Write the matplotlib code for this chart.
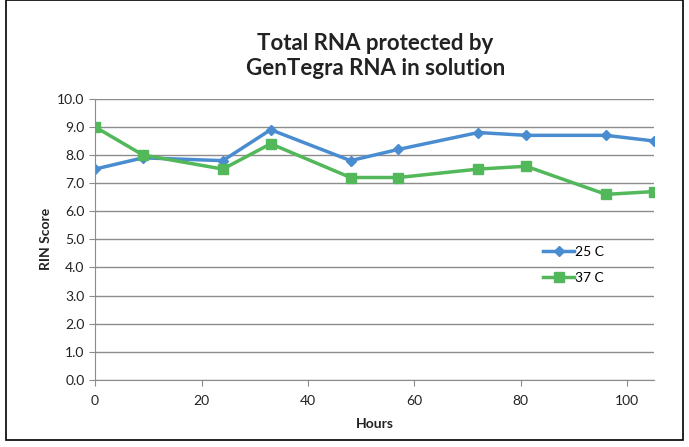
import matplotlib.pyplot as plt
from matplotlib.patches import Rectangle

# data
hours = [0, 9, 24, 33, 48, 57, 72, 81, 96, 105]
rin_25 = [7.5, 7.9, 7.8, 8.9, 7.8, 8.2, 8.8, 8.7, 8.7, 8.5]
rin_37 = [9.0, 8.0, 7.5, 8.4, 7.2, 7.2, 7.5, 7.6, 6.6, 6.7]

plt.rcParams['font.family'] = ['Lato', 'DejaVu Sans']

fig = plt.figure(figsize=(6.89, 4.47), dpi=100)
ax = fig.add_axes([0.138, 0.150, 0.811, 0.629])

ax.plot(hours, rin_25, color='#4a8cd0', marker='D', markersize=5.5, linewidth=2.5, label='25 C')
ax.plot(hours, rin_37, color='#52b85a', marker='s', markersize=6.5, linewidth=2.5, label='37 C')

ax.set_xlim(0, 105)
ax.set_ylim(0, 10)
ax.set_yticks([i * 1.0 for i in range(11)])
ax.set_yticklabels(['%.1f' % (i * 1.0) for i in range(11)])
ax.set_xticks([0, 20, 40, 60, 80, 100])
ax.grid(axis='y', color='#8c8c8c', linewidth=1)
ax.set_axisbelow(True)
for s in ['top', 'right']:
    ax.spines[s].set_visible(False)
for s in ['left', 'bottom']:
    ax.spines[s].set_color('#8c8c8c')
ax.tick_params(colors='#8c8c8c', labelcolor='#222222', labelsize=10, length=4)
ax.tick_params(axis='x', pad=7)

ax.set_xlabel('Hours', fontsize=10, fontweight='bold', color='#222222', labelpad=8)
ax.set_ylabel('RIN Score', fontsize=10, fontweight='bold', color='#222222')

ax.legend(loc='upper left', bbox_to_anchor=(0.78, 0.52), frameon=False, fontsize=10,
          handlelength=2.2, handletextpad=0.1, labelspacing=1.0)

fig.text(0.545, 0.874, 'Total RNA protected by\nGenTegra RNA in solution', ha='center', va='center',
         fontsize=16, fontweight='bold', color='#222222', linespacing=1.25)

fig.patches.append(Rectangle((0.009, 0.015), 0.983, 0.985, transform=fig.transFigure,
                             fill=False, edgecolor='black', linewidth=1.2))

fig.savefig('out.png', dpi=100)
